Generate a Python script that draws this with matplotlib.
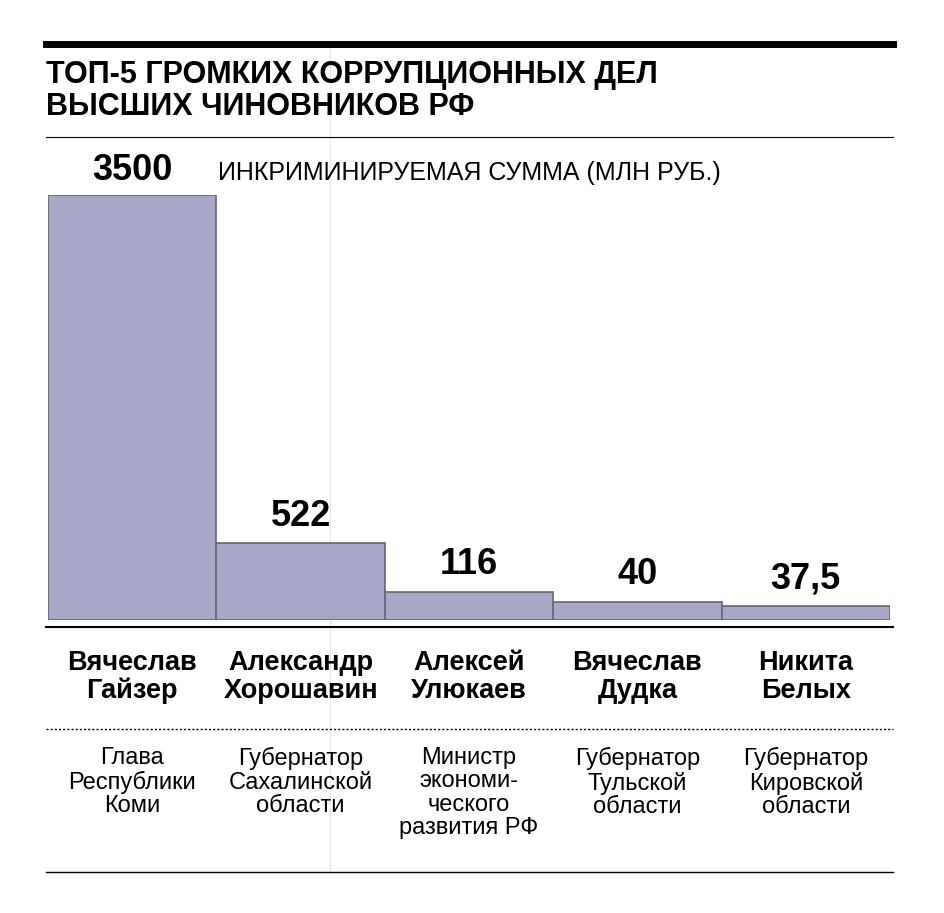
import numpy as np
import matplotlib
matplotlib.use("Agg")
import matplotlib.pyplot as plt
from matplotlib.lines import Line2D

names = ["Вячеслав\nГайзер", "Александр\nХорошавин", "Алексей\nУлюкаев", "Вячеслав\nДудка", "Никита\nБелых"]
posts = ["Глава\nРеспублики\nКоми", "Губернатор\nСахалинской\nобласти", "Министр\nэкономи-\nческого\nразвития РФ",
         "Губернатор\nТульской\nобласти", "Губернатор\nКировской\nобласти"]
values = [3500, 522, 116, 40, 37.5]
labels = ["3500", "522", "116", "40", "37,5"]

# non-linear display scale as in the original graphic
sv = np.array([0, 37.5, 40, 116, 522, 3500])
sp = np.array([0, 14, 18, 28, 77, 425])
fwd = lambda v: np.interp(v, sv, sp)
inv = lambda p: np.interp(p, sp, sv)

W, H = 945, 913
fig = plt.figure(figsize=(W/100, H/100), dpi=100)
fy = lambda y: 1 - y/H
fx = lambda x: x/W
font = "Liberation Sans"

def hline(y, x0=46, x1=893, lw=1, ls="-", c="black"):
    fig.add_artist(Line2D([fx(x0), fx(x1)], [fy(y), fy(y)], lw=lw, ls=ls, color=c, transform=fig.transFigure))

hline(44, lw=5)
hline(137, lw=0.8)
hline(627, lw=1.5)
hline(729, lw=1, ls=(0, (1.5, 1.5)))
hline(872, lw=1)
fig.add_artist(Line2D([fx(330), fx(330)], [fy(44), fy(872)], lw=0.5, color="#dddddd", transform=fig.transFigure, zorder=0))

fig.text(fx(46), fy(91), "ТОП-5 ГРОМКИХ КОРРУПЦИОННЫХ ДЕЛ\nВЫСШИХ ЧИНОВНИКОВ РФ", fontsize=22, fontweight="bold",
         family=font, va="center", ha="left", linespacing=1.05)
fig.text(fx(218), fy(173), "ИНКРИМИНИРУЕМАЯ СУММА (МЛН РУБ.)", fontsize=18, family=font, va="center", ha="left")

ax = fig.add_axes([fx(48), fy(620), fx(890) - fx(48), (620 - 195)/H])
ax.set_yscale("function", functions=(fwd, inv))
x = np.arange(len(values))
ax.bar(x, values, width=1.0, color="#a7a7c8", edgecolor="#666677", linewidth=1.2)
ax.set_xlim(-0.5, len(values) - 0.5)
ax.set_ylim(0, 3500)
ax.axis("off")
for i, (v, l) in enumerate(zip(values, labels)):
    yy = 170 if i == 0 else 620 - fwd(v) - 27
    fig.text(fx(48 + 168.4*(i + 0.5)), fy(yy), l, fontsize=26, fontweight="bold", family=font, ha="center", va="center")

for i in range(5):
    cx = fx(48 + 168.4*(i + 0.5))
    fig.text(cx, fy(677), names[i], fontsize=19.5, fontweight="bold", family=font, ha="center", va="center", linespacing=1.12)
    fig.text(cx, fy(747), posts[i], fontsize=17, family=font, ha="center", va="top", linespacing=1.08)

fig.savefig("out.png", dpi=100)
